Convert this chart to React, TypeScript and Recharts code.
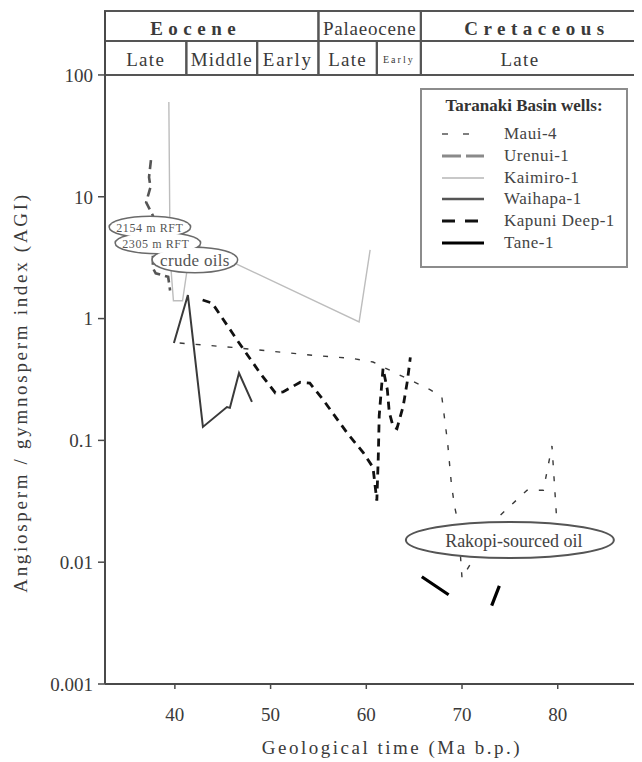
import React from 'react';
import {
  LineChart,
  Line,
  XAxis,
  YAxis,
  ReferenceArea,
  ReferenceDot,
  Legend,
  Label,
} from 'recharts';

const SERIF = "'Liberation Serif', 'Times New Roman', serif";

// Age axis (Ma before present) and AGI axis ticks
const ageDomain = [32.7, 88.7];
const ageTicks = [40, 50, 60, 70, 80];
const agiDomain = [0.001, 335];
const agiTicks = [0.001, 0.01, 0.1, 1, 10, 100];

// Stratigraphic chart drawn above the plot (ages in Ma)
const epochs = [
  { name: 'Eocene', from: 32.7, to: 55.0 },
  { name: 'Palaeocene', from: 55.0, to: 65.7 },
  { name: 'Cretaceous', from: 65.7, to: 88.7 },
];
const stages = [
  { name: 'Late', from: 32.7, to: 41.2 },
  { name: 'Middle', from: 41.2, to: 48.6 },
  { name: 'Early', from: 48.6, to: 55.0 },
  { name: 'Late', from: 55.0, to: 61.1 },
  { name: 'Early', from: 61.1, to: 65.7 },
  { name: 'Late', from: 65.7, to: 88.7 },
];
// AGI levels bounding the two header rows
const headerRows = { stageLow: 100, split: 190, epochHigh: 335 };

// Angiosperm / gymnosperm index per well
const maui4 = [
  { age: 40.5, agi: 0.63 },
  { age: 46.0, agi: 0.58 },
  { age: 54.4, agi: 0.5 },
  { age: 58.6, agi: 0.47 },
  { age: 60.7, agi: 0.44 },
  { age: 62.8, agi: 0.365 },
  { age: 66.7, agi: 0.26 },
  { age: 67.9, agi: 0.225 },
  { age: 68.5, agi: 0.095 },
  { age: 68.9, agi: 0.043 },
  { age: 69.25, agi: 0.028 },
  { age: 69.6, agi: 0.021 },
  { age: 70.0, agi: 0.0074 },
  { age: 73.8, agi: 0.0235 },
  { age: 76.8, agi: 0.039 },
  { age: 78.5, agi: 0.039 },
  { age: 79.4, agi: 0.09 },
  { age: 79.9, agi: 0.022 },
];
const urenui1 = [
  { age: 37.5, agi: 20 },
  { age: 37.3, agi: 14.5 },
  { age: 37.45, agi: 12 },
  { age: 37.0, agi: 9 },
  { age: 37.7, agi: 7 },
  { age: 37.7, agi: 2.6 },
  { age: 38.0, agi: 2.35 },
  { age: 39.3, agi: 2.2 },
  { age: 39.5, agi: 1.7 },
];
const kaimiro1 = [
  { age: 39.37, agi: 60 },
  { age: 39.5, agi: 3.2 },
  { age: 39.85, agi: 1.4 },
  { age: 40.8, agi: 1.4 },
  { age: 41.7, agi: 4.2 },
  { age: 59.25, agi: 0.94 },
  { age: 60.4, agi: 3.66 },
];
const waihapa1 = [
  { age: 39.9, agi: 0.63 },
  { age: 41.36, agi: 1.56 },
  { age: 42.93, agi: 0.129 },
  { age: 45.44, agi: 0.188 },
  { age: 45.75, agi: 0.185 },
  { age: 46.7, agi: 0.357 },
  { age: 48.05, agi: 0.207 },
];
const kapuniDeep1 = [
  { age: 42.9, agi: 1.42 },
  { age: 43.9, agi: 1.34 },
  { age: 46.5, agi: 0.667 },
  { age: 48.9, agi: 0.357 },
  { age: 50.5, agi: 0.245 },
  { age: 51.3, agi: 0.25 },
  { age: 53.1, agi: 0.3 },
  { age: 54.1, agi: 0.295 },
  { age: 55.5, agi: 0.215 },
  { age: 58.0, agi: 0.115 },
  { age: 59.7, agi: 0.079 },
  { age: 60.7, agi: 0.06 },
  { age: 61.1, agi: 0.032 },
  { age: 61.25, agi: 0.072 },
  { age: 61.35, agi: 0.16 },
  { age: 61.75, agi: 0.39 },
  { age: 62.2, agi: 0.26 },
  { age: 62.4, agi: 0.17 },
  { age: 62.8, agi: 0.13 },
  { age: 63.2, agi: 0.125 },
  { age: 63.85, agi: 0.19 },
  { age: 64.3, agi: 0.31 },
  { age: 64.6, agi: 0.48 },
];
const tane1 = [
  { age: 65.8, agi: 0.0076 },
  { age: 68.6, agi: 0.0054 },
  { age: 70.8, agi: null },
  { age: 73.1, agi: 0.0044 },
  { age: 73.9, agi: 0.0064 },
];

const wells = [
  { name: 'Maui-4', data: maui4 },
  { name: 'Urenui-1', data: urenui1 },
  { name: 'Kaimiro-1', data: kaimiro1 },
  { name: 'Waihapa-1', data: waihapa1 },
  { name: 'Kapuni Deep-1', data: kapuniDeep1 },
  { name: 'Tane-1', data: tane1 },
];

// Annotation anchors (age, AGI)
const rftCallout = { age: 37.39, agi: 5.65, lines: ['2154 m RFT', '2305 m RFT', 'crude oils'] };
const rakopiOval = { age: 75.0, agi: 0.0152, text: 'Rakopi-sourced oil' };

// Line styles per well
const wellStyle: Record<string, any> = {
  'Maui-4': { stroke: '#3a3a3a', width: 1.4, dash: '5 11', keyWidth: 1.6, keyDash: '6 15' },
  'Urenui-1': { stroke: '#555', width: 2.6, dash: '9 5', keyWidth: 3, keyDash: '19 5' },
  'Kaimiro-1': { stroke: '#bdbdbd', width: 1.4, dash: undefined, keyWidth: 2, keyDash: undefined },
  'Waihapa-1': { stroke: '#3a3a3a', width: 2, dash: undefined, keyWidth: 2.6, keyDash: undefined },
  'Kapuni Deep-1': { stroke: '#111', width: 2.8, dash: '8 6', keyWidth: 3, keyDash: '13 10' },
  'Tane-1': { stroke: '#000', width: 3.2, dash: undefined, keyWidth: 3.2, keyDash: undefined },
};
const keyColours: Record<string, string> = {
  'Maui-4': '#555',
  'Urenui-1': '#8a8a8a',
  'Kaimiro-1': '#c8c8c8',
  'Waihapa-1': '#555',
  'Kapuni Deep-1': '#111',
  'Tane-1': '#000',
};

const headerStyle: Record<string, any> = {
  Eocene: { size: 19, weight: 700, spacing: 5.5, dx: -16 },
  Palaeocene: { size: 19, weight: 400, spacing: 0.8, dx: 0 },
  Cretaceous: { size: 19, weight: 700, spacing: 5.5, dx: 6 },
  Late: { size: 19, weight: 400, spacing: 1.3, dx: 0 },
  Middle: { size: 19, weight: 400, spacing: 1.2, dx: 0 },
  Early: { size: 19, weight: 400, spacing: 1.8, dx: 0 },
};
const narrowEarly = { size: 10, weight: 400, spacing: 2, dx: 0 };
const lastLate = { size: 19, weight: 400, spacing: 1.3, dx: -11 };

const HeaderText = (props: any) => {
  const { viewBox, text, look } = props;
  if (!viewBox) return null;
  const { x, y, width, height } = viewBox;
  return (
    <text
      x={x + width / 2 + look.dx}
      y={y + height / 2 + 2}
      textAnchor="middle"
      dominantBaseline="central"
      fontFamily={SERIF}
      fontSize={look.size}
      fontWeight={look.weight}
      letterSpacing={look.spacing}
      fill="#3a3a3a"
    >
      {text}
    </text>
  );
};

const CalloutCloud = (props: any) => {
  const { cx, cy } = props;
  if (cx == null || cy == null) return null;
  const puffs = [
    { dx: 0, dy: 0, rx: 40, ry: 10 },
    { dx: 8, dy: 16, rx: 42, ry: 10 },
    { dx: 45, dy: 33, rx: 42, ry: 12 },
  ];
  const textPos = [
    { dx: 0, dy: 1, size: 12 },
    { dx: 6, dy: 17, size: 12 },
    { dx: 45, dy: 34, size: 17 },
  ];
  return (
    <g>
      {puffs.map((p, i) => (
        <ellipse key={'o' + i} cx={cx + p.dx} cy={cy + p.dy} rx={p.rx} ry={p.ry} fill="#fff" stroke="#6a6a6a" strokeWidth={3} />
      ))}
      {puffs.map((p, i) => (
        <ellipse key={'f' + i} cx={cx + p.dx} cy={cy + p.dy} rx={p.rx} ry={p.ry} fill="#fff" stroke="none" />
      ))}
      {rftCallout.lines.map((t, i) => (
        <text
          key={'t' + i}
          x={cx + textPos[i].dx}
          y={cy + textPos[i].dy}
          textAnchor="middle"
          dominantBaseline="central"
          fontFamily={SERIF}
          fontSize={textPos[i].size}
          letterSpacing={i < 2 ? 0.6 : 0.3}
          fill="#555"
        >
          {t}
        </text>
      ))}
    </g>
  );
};

const RakopiOval = (props: any) => {
  const { cx, cy } = props;
  if (cx == null || cy == null) return null;
  return (
    <g>
      <ellipse cx={cx} cy={cy} rx={104} ry={18} fill="#fff" stroke="#555" strokeWidth={2} />
      <text
        x={cx + 4}
        y={cy + 1}
        textAnchor="middle"
        dominantBaseline="central"
        fontFamily={SERIF}
        fontSize={18}
        fill="#444"
      >
        {rakopiOval.text}
      </text>
    </g>
  );
};

// Legend box listing the wells in their plotting order
const WellKey = () => (
  <div
    style={{
      position: 'relative',
      width: 208,
      height: 180,
      boxSizing: 'border-box',
      border: '2px solid #8c8c8c',
      background: '#fff',
      fontFamily: SERIF,
      color: '#444',
    }}
  >
    <div
      style={{
        position: 'absolute',
        top: 6,
        left: 0,
        width: '100%',
        textAlign: 'center',
        fontSize: 17,
        fontWeight: 700,
        lineHeight: '20px',
        color: '#333',
      }}
    >
      Taranaki Basin wells:
    </div>
    {wells.map((w, i) => {
      const s = wellStyle[w.name];
      return (
        <div
          key={w.name}
          style={{ position: 'absolute', top: 33 + i * 21.8, left: 0, height: 22, display: 'flex', alignItems: 'center' }}
        >
          <svg width={64} height={10} style={{ display: 'block' }}>
            <line x1={20} x2={62} y1={5} y2={5} stroke={keyColours[w.name]} strokeWidth={s.keyWidth} strokeDasharray={s.keyDash} />
          </svg>
          <span style={{ marginLeft: 18, fontSize: 17, letterSpacing: 0.5, lineHeight: '22px' }}>{w.name}</span>
        </div>
      );
    })}
  </div>
);

const AgeTitle = (props: any) => {
  const vb = props.viewBox;
  if (!vb) return null;
  return (
    <text
      x={vb.x + vb.width / 2 + 19}
      y={vb.y + 70}
      textAnchor="middle"
      fontFamily={SERIF}
      fontSize={19}
      letterSpacing={2.5}
      fill="#3a3a3a"
    >
      Geological time (Ma b.p.)
    </text>
  );
};

const AgiTitle = (props: any) => {
  const vb = props.viewBox;
  if (!vb) return null;
  const x = vb.x + 12;
  const y = vb.y + vb.height / 2 + 45;
  return (
    <text
      x={x}
      y={y}
      transform={`rotate(-90, ${x}, ${y})`}
      textAnchor="middle"
      dominantBaseline="central"
      fontFamily={SERIF}
      fontSize={19}
      letterSpacing={2.7}
      fill="#3a3a3a"
    >
      Angiosperm / gymnosperm index (AGI)
    </text>
  );
};

const tickStyle = { fontFamily: SERIF, fontSize: 19, fill: '#3a3a3a' };

export default function App() {
  return (
    <LineChart width={634} height={754} margin={{ top: 3, right: 1, left: 0, bottom: 0 }}>
      <XAxis
        dataKey="age"
        type="number"
        domain={ageDomain}
        ticks={ageTicks}
        allowDataOverflow
        height={78}
        tickSize={5}
        tickMargin={19}
        tick={tickStyle}
        axisLine={{ stroke: '#4a4a4a', strokeWidth: 2 }}
        tickLine={{ stroke: '#4a4a4a', strokeWidth: 1.5 }}
      >
        <Label content={<AgeTitle />} />
      </XAxis>
      <YAxis
        type="number"
        scale="log"
        domain={agiDomain}
        ticks={agiTicks}
        allowDataOverflow
        width={97}
        tickSize={7}
        tickMargin={5}
        tick={tickStyle}
        tickFormatter={(v: number) => String(v)}
        axisLine={{ stroke: '#4a4a4a', strokeWidth: 2 }}
        tickLine={{ stroke: '#4a4a4a', strokeWidth: 1.5 }}
      >
        <Label content={<AgiTitle />} />
      </YAxis>

      {epochs.map((c) => (
        <ReferenceArea
          key={'ep-' + c.name}
          x1={c.from}
          x2={c.to}
          y1={headerRows.split}
          y2={headerRows.epochHigh}
          fill="none"
          stroke="#555"
          strokeWidth={2}
          label={<HeaderText text={c.name} look={headerStyle[c.name]} />}
        />
      ))}
      {stages.map((c, i) => (
        <ReferenceArea
          key={'st-' + i}
          x1={c.from}
          x2={c.to}
          y1={headerRows.stageLow}
          y2={headerRows.split}
          fill="none"
          stroke="#555"
          strokeWidth={2}
          label={
            <HeaderText
              text={c.name}
              look={i === 4 ? narrowEarly : i === stages.length - 1 ? lastLate : headerStyle[c.name]}
            />
          }
        />
      ))}

      {wells.map((w) => {
        const s = wellStyle[w.name];
        return (
          <Line
            key={w.name}
            name={w.name}
            data={w.data}
            dataKey="agi"
            type="linear"
            stroke={s.stroke}
            strokeWidth={s.width}
            strokeDasharray={s.dash}
            dot={false}
            activeDot={false}
            connectNulls={false}
            isAnimationActive={false}
          />
        );
      })}

      <ReferenceDot x={rftCallout.age} y={rftCallout.agi} r={1} shape={<CalloutCloud />} zIndex={700} />
      <ReferenceDot x={rakopiOval.age} y={rakopiOval.agi} r={1} shape={<RakopiOval />} zIndex={700} />

      <Legend
        layout="vertical"
        align="center"
        verticalAlign="middle"
        wrapperStyle={{ top: 80, left: 412, width: 208, height: 180 }}
        content={() => <WellKey />}
      />
    </LineChart>
  );
}
